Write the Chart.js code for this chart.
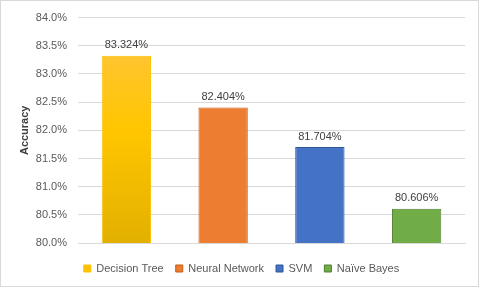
<!DOCTYPE html>
<html>
<head>
<meta charset="utf-8">
<script src="https://cdn.jsdelivr.net/npm/chart.js@4"></script>
<style>
html,body{margin:0;padding:0;background:#fff;}
#c{display:block;}
</style>
</head>
<body>
<canvas id="c" width="482" height="289"></canvas>
<script>
const categories = ["Decision Tree", "Neural Network", "SVM", "Na\u00efve Bayes"];
const accuracy = [83.324, 82.404, 81.704, 80.606];
const fillColors = ["#FFC000", "#ED7D31", "#4472C4", "#70AD47"];
const borderColors = ["#FFC000", "#C55A11", "#2F5597", "#507E32"];
const yMin = 80.0, yMax = 84.0, yStep = 0.5;

const borderPlugin = {
  id: 'outerBorder',
  beforeDraw(chart) {
    const ctx = chart.ctx;
    ctx.save();
    ctx.fillStyle = '#fff';
    ctx.fillRect(0, 0, chart.width, chart.height);
    ctx.strokeStyle = '#d9d9d9';
    ctx.lineWidth = 1;
    ctx.strokeRect(0.5, 0.5, 478, 286);
    ctx.restore();
  }
};

const labelPlugin = {
  id: 'valueLabels',
  afterDatasetsDraw(chart) {
    const ctx = chart.ctx;
    const meta = chart.getDatasetMeta(0);
    ctx.save();
    ctx.font = '11px "Liberation Sans", Arial, sans-serif';
    ctx.fillStyle = '#404040';
    ctx.textAlign = 'center';
    ctx.textBaseline = 'bottom';
    meta.data.forEach((bar, i) => {
      ctx.fillText(accuracy[i].toFixed(3) + '%', bar.x, bar.y - 5);
    });
    ctx.restore();
  }
};

function barFill(context) {
  const i = context.dataIndex;
  if (i === 0) {
    const area = context.chart.chartArea;
    if (!area) return fillColors[0];
    const bar = context.chart.getDatasetMeta(0).data[0];
    const top = bar && bar.y ? bar.y : area.top;
    const g = context.chart.ctx.createLinearGradient(0, top, 0, area.bottom);
    g.addColorStop(0, '#FFC446');
    g.addColorStop(0.5, '#FFC600');
    g.addColorStop(1, '#E2B000');
    return g;
  }
  return fillColors[i];
}

new Chart(document.getElementById('c'), {
  type: 'bar',
  data: {
    labels: categories,
    datasets: [{
      label: 'Accuracy',
      data: accuracy,
      backgroundColor: barFill,
      borderColor: borderColors,
      borderWidth: 1,
      barPercentage: 0.51,
      categoryPercentage: 1.0
    }]
  },
  options: {
    responsive: false,
    animation: false,
    layout: { autoPadding: false, padding: { top: 12.4, right: 17, left: 18, bottom: 5 } },
    plugins: {
      tooltip: { enabled: false },
      legend: {
        position: 'bottom',
        labels: {
          boxWidth: 7,
          boxHeight: 7,
          padding: 12,
          color: '#595959',
          font: { size: 11, family: '"Liberation Sans", Arial, sans-serif' },
          generateLabels(chart) {
            return categories.map((c, i) => ({
              text: c,
              fillStyle: fillColors[i],
              strokeStyle: borderColors[i],
              lineWidth: 1,
              hidden: false,
              index: i,
              fontColor: '#595959'
            }));
          }
        }
      }
    },
    scales: {
      x: {
        ticks: { display: false },
        grid: { display: false },
        border: { color: '#d9d9d9' }
      },
      y: {
        min: yMin,
        max: yMax,
        afterFit(scale) { scale.width = 60; },
        ticks: {
          stepSize: yStep,
          color: '#595959',
          padding: 11,
          font: { size: 11, family: '"Liberation Sans", Arial, sans-serif' },
          callback: v => Number(v).toFixed(1) + '%'
        },
        grid: { color: '#d9d9d9', drawTicks: false },
        border: { display: false },
        title: {
          display: true,
          text: 'Accuracy',
          color: '#404040',
          padding: { top: 0, bottom: 0 },
          font: { size: 11, weight: 'bold', family: '"Liberation Sans", Arial, sans-serif' }
        }
      }
    }
  },
  plugins: [borderPlugin, labelPlugin]
});
</script>
</body>
</html>
